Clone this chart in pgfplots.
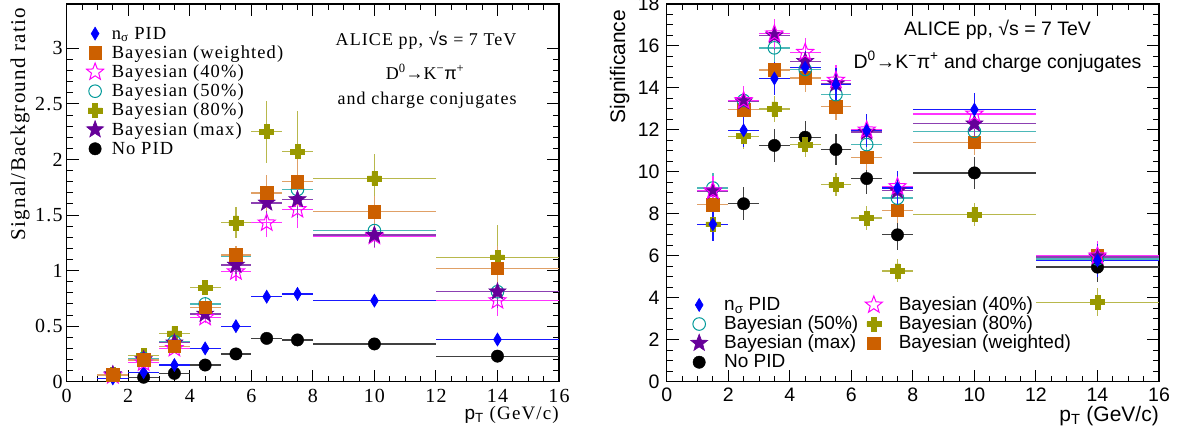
\documentclass[border=0pt]{standalone}
\usepackage{fontspec}
\setmainfont{Liberation Serif}
\newfontfamily\serifrm[LetterSpace=6]{Liberation Serif}
\newfontfamily\sansrm{Liberation Sans}
\usepackage{pgfplots}
\pgfplotsset{compat=1.18}

\definecolor{cns}{RGB}{0,0,255}
\definecolor{cw}{RGB}{204,96,0}
\definecolor{c40}{RGB}{255,0,255}
\definecolor{c50}{RGB}{0,153,153}
\definecolor{c80}{RGB}{153,153,0}
\definecolor{cmax}{RGB}{102,0,153}
\definecolor{cno}{RGB}{0,0,0}

\pgfdeclareplotmark{fstar}{%
  \pgfpathmoveto{\pgfpointpolar{90}{\pgfplotmarksize}}%
  \pgfpathlineto{\pgfpointpolar{126}{0.42\pgfplotmarksize}}%
  \pgfpathlineto{\pgfpointpolar{162}{\pgfplotmarksize}}%
  \pgfpathlineto{\pgfpointpolar{198}{0.42\pgfplotmarksize}}%
  \pgfpathlineto{\pgfpointpolar{234}{\pgfplotmarksize}}%
  \pgfpathlineto{\pgfpointpolar{270}{0.42\pgfplotmarksize}}%
  \pgfpathlineto{\pgfpointpolar{306}{\pgfplotmarksize}}%
  \pgfpathlineto{\pgfpointpolar{342}{0.42\pgfplotmarksize}}%
  \pgfpathlineto{\pgfpointpolar{18}{\pgfplotmarksize}}%
  \pgfpathlineto{\pgfpointpolar{54}{0.42\pgfplotmarksize}}%
  \pgfpathclose\pgfusepathqfillstroke}
\pgfdeclareplotmark{ostar}{%
  \pgfpathmoveto{\pgfpointpolar{90}{\pgfplotmarksize}}%
  \pgfpathlineto{\pgfpointpolar{126}{0.42\pgfplotmarksize}}%
  \pgfpathlineto{\pgfpointpolar{162}{\pgfplotmarksize}}%
  \pgfpathlineto{\pgfpointpolar{198}{0.42\pgfplotmarksize}}%
  \pgfpathlineto{\pgfpointpolar{234}{\pgfplotmarksize}}%
  \pgfpathlineto{\pgfpointpolar{270}{0.42\pgfplotmarksize}}%
  \pgfpathlineto{\pgfpointpolar{306}{\pgfplotmarksize}}%
  \pgfpathlineto{\pgfpointpolar{342}{0.42\pgfplotmarksize}}%
  \pgfpathlineto{\pgfpointpolar{18}{\pgfplotmarksize}}%
  \pgfpathlineto{\pgfpointpolar{54}{0.42\pgfplotmarksize}}%
  \pgfpathclose\pgfusepathqstroke}
\pgfdeclareplotmark{fcross}{%
  \pgfpathmoveto{\pgfpoint{-0.35\pgfplotmarksize}{\pgfplotmarksize}}%
  \pgfpathlineto{\pgfpoint{0.35\pgfplotmarksize}{\pgfplotmarksize}}%
  \pgfpathlineto{\pgfpoint{0.35\pgfplotmarksize}{0.35\pgfplotmarksize}}%
  \pgfpathlineto{\pgfpoint{\pgfplotmarksize}{0.35\pgfplotmarksize}}%
  \pgfpathlineto{\pgfpoint{\pgfplotmarksize}{-0.35\pgfplotmarksize}}%
  \pgfpathlineto{\pgfpoint{0.35\pgfplotmarksize}{-0.35\pgfplotmarksize}}%
  \pgfpathlineto{\pgfpoint{0.35\pgfplotmarksize}{-\pgfplotmarksize}}%
  \pgfpathlineto{\pgfpoint{-0.35\pgfplotmarksize}{-\pgfplotmarksize}}%
  \pgfpathlineto{\pgfpoint{-0.35\pgfplotmarksize}{-0.35\pgfplotmarksize}}%
  \pgfpathlineto{\pgfpoint{-\pgfplotmarksize}{-0.35\pgfplotmarksize}}%
  \pgfpathlineto{\pgfpoint{-\pgfplotmarksize}{0.35\pgfplotmarksize}}%
  \pgfpathlineto{\pgfpoint{-0.35\pgfplotmarksize}{0.35\pgfplotmarksize}}%
  \pgfpathclose\pgfusepathqfillstroke}

\tikzset{
  mNS/.style={mark=diamond*, mark size=6.5pt, mark options={xscale=0.8, solid, draw=cns, fill=cns, line width=0.6pt}},
  mW/.style={mark=square*, mark size=6.3pt, mark options={solid, draw=cw, fill=cw, line width=0.6pt}},
  m40/.style={mark=ostar, mark size=9pt, mark options={solid, draw=c40, line width=1pt}},
  m50/.style={mark=o, mark size=6.3pt, mark options={solid, draw=c50, line width=1pt}},
  m80/.style={mark=fcross, mark size=7pt, mark options={solid, draw=c80, fill=c80, line width=0.6pt}},
  mMax/.style={mark=fstar, mark size=9pt, mark options={solid, draw=cmax, fill=cmax, line width=0.6pt}},
  mNo/.style={mark=*, mark size=6.2pt, mark options={solid, draw=cno, fill=cno}},
}
\pgfplotsset{
  ebar/.style={/pgfplots/error bars/x dir=both, /pgfplots/error bars/x explicit,
    /pgfplots/error bars/y dir=both, /pgfplots/error bars/y explicit,
    /pgfplots/error bars/error mark=none,
    /pgfplots/error bars/error bar style={line width=1.3pt, solid, #1}},
  rootaxis/.style={
    scale only axis, width=492.3pt, height=377.7pt,
    xmin=0, xmax=16, xtick={0,2,...,16}, minor x tick num=3,
    tick align=inside, tick pos=both,
    major tick length=12pt, minor tick length=6pt,
    every tick/.style={black, line width=1pt},
    axis line style={line width=1.3pt},
    clip=false,
    legend image code/.code={\draw[overlay,#1] plot coordinates {(0pt,1pt)}; \path[draw=none,fill=none] (-9pt,0pt) -- (9pt,0pt);},
    legend cell align=left,
    /pgf/number format/assume math mode=true,
  }
}

\begin{document}
\begin{tikzpicture}
\useasboundingbox (0,0) rectangle (1181pt,437pt);
% ---------------- left panel ----------------
\begin{axis}[rootaxis, at={(66.7pt,55.3pt)}, anchor=south west,
  ymin=0, ymax=3.4, ytick={0,0.5,...,3}, minor y tick num=4,
  tick label style={font=\serifrm\fontsize{20}{20}\selectfont},
  yticklabel style={inner sep=0pt, xshift=-4pt},
  xticklabel style={inner sep=0pt, yshift=-7pt},
  ylabel={Signal/Background ratio},
  ylabel style={at={(axis description cs:-0.0847,0.99)}, anchor=base east, inner sep=0pt, font=\serifrm\fontsize{21}{21}\selectfont},
  xlabel={{\sansrm p\textsubscript{T}} (GeV/c)},
  xlabel style={at={(rel axis cs:1,0)}, anchor=base east, yshift=-38pt, inner sep=0pt, font=\serifrm\fontsize{19}{19}\selectfont},
  legend style={at={(rel axis cs:0.039,0.942)}, anchor=north west, draw=none, fill=none, inner sep=0pt,
    font=\serifrm\fontsize{18.5}{18.5}\selectfont,
    nodes={inner sep=0pt, text height=13pt, text depth=4pt}, row sep=2.2pt,
    /tikz/every odd column/.append style={column sep=7.7pt}},
]
\addplot[only marks, mNo, forget plot, ebar={cno!75}] coordinates {
 (2.5,0.04)+-(0.5,0.005) (3.5,0.075)+-(0.5,0.01) (4.5,0.15)+-(0.5,0.015) (5.5,0.25)+-(0.5,0.02)
 (6.5,0.39)+-(0.5,0.03) (7.5,0.376)+-(0.5,0.035) (10,0.34)+-(2,0.025) (14,0.23)+-(2,0.025)};
\addplot[only marks, mNS, forget plot, ebar={cns!90}] coordinates {
 (1.5,0.03)+-(0.5,0.005) (2.5,0.085)+-(0.5,0.008) (3.5,0.15)+-(0.5,0.012) (4.5,0.30)+-(0.5,0.02)
 (5.5,0.50)+-(0.5,0.03) (6.5,0.765)+-(0.5,0.05) (7.5,0.79)+-(0.5,0.06) (10,0.73)+-(2,0.04) (14,0.38)+-(2,0.04)};
\addplot[only marks, m40, forget plot, ebar={c40!80}] coordinates {
 (1.5,0.055)+-(0.5,0.01) (2.5,0.17)+-(0.5,0.02) (3.5,0.30)+-(0.5,0.03) (4.5,0.58)+-(0.5,0.05)
 (5.5,0.99)+-(0.5,0.08) (6.5,1.43)+-(0.5,0.13) (7.5,1.55)+-(0.5,0.17) (10,1.31)+-(2,0.11) (14,0.73)+-(2,0.14)};
\addplot[only marks, m80, forget plot, ebar={c80!70}] coordinates {
 (1.5,0.065)+-(0.5,0.01) (2.5,0.235)+-(0.5,0.03) (3.5,0.435)+-(0.5,0.05) (4.5,0.847)+-(0.5,0.07)
 (5.5,1.43)+-(0.5,0.14) (6.5,2.25)+-(0.5,0.28) (7.5,2.07)+-(0.5,0.37) (10,1.83)+-(2,0.22) (14,1.12)+-(2,0.29)};
\addplot[only marks, m50, forget plot, ebar={c50!70}] coordinates {
 (1.5,0.065)+-(0.5,0.01) (2.5,0.21)+-(0.5,0.02) (3.5,0.36)+-(0.5,0.03) (4.5,0.70)+-(0.5,0.05)
 (5.5,1.13)+-(0.5,0.08) (6.5,1.70)+-(0.5,0.15) (7.5,1.73)+-(0.5,0.19) (10,1.36)+-(2,0.12) (14,0.81)+-(2,0.15)};
\addplot[only marks, mMax, forget plot, ebar={cmax!75}] coordinates {
 (1.5,0.065)+-(0.5,0.01) (2.5,0.20)+-(0.5,0.02) (3.5,0.35)+-(0.5,0.03) (4.5,0.61)+-(0.5,0.05)
 (5.5,1.05)+-(0.5,0.08) (6.5,1.61)+-(0.5,0.14) (7.5,1.64)+-(0.5,0.17) (10,1.32)+-(2,0.11) (14,0.81)+-(2,0.15)};
\addplot[only marks, mW, forget plot, ebar={cw!60}] coordinates {
 (1.5,0.06)+-(0.5,0.01) (2.5,0.195)+-(0.5,0.02) (3.5,0.32)+-(0.5,0.03) (4.5,0.67)+-(0.5,0.05)
 (5.5,1.14)+-(0.5,0.08) (6.5,1.70)+-(0.5,0.16) (7.5,1.80)+-(0.5,0.22) (10,1.53)+-(2,0.14) (14,1.02)+-(2,0.2)};
\addlegendimage{mNS}\addlegendentry{n\textsubscript{σ} PID}
\addlegendimage{mW}\addlegendentry{Bayesian (weighted)}
\addlegendimage{m40}\addlegendentry{Bayesian (40\%)}
\addlegendimage{m50}\addlegendentry{Bayesian (50\%)}
\addlegendimage{m80}\addlegendentry{Bayesian (80\%)}
\addlegendimage{mMax}\addlegendentry{Bayesian (max)}
\addlegendimage{mNo}\addlegendentry{No PID}
\node[font=\serifrm\fontsize{18}{18}\selectfont] at (rel axis cs:0.730,0.905) {ALICE pp, {\sansrm √s} = 7 TeV};
\node[font=\serifrm\fontsize{18}{18}\selectfont] at (rel axis cs:0.728,0.820) {D\textsuperscript{0}{\sansrm →}K\textsuperscript{−}{\sansrm π}\textsuperscript{+}};
\node[font=\serifrm\fontsize{18}{18}\selectfont] at (rel axis cs:0.732,0.746) {and charge conjugates};
\end{axis}
% ---------------- right panel ----------------
\begin{axis}[rootaxis, at={(666.7pt,55.3pt)}, anchor=south west,
  ymin=0, ymax=18, ytick={0,2,...,18}, minor y tick num=3,
  tick label style={font=\sansrm\fontsize{19.5}{19.5}\selectfont},
  yticklabel style={inner sep=0pt, xshift=-7pt},
  xticklabel style={inner sep=0pt, yshift=-6pt},
  ylabel={Significance},
  ylabel style={at={(axis description cs:-0.0847,0.985)}, anchor=base east, inner sep=0pt, font=\sansrm\fontsize{21}{21}\selectfont},
  xlabel={p\textsubscript{T} (GeV/c)},
  xlabel style={at={(rel axis cs:1,0)}, anchor=base east, yshift=-40pt, inner sep=0pt, font=\sansrm\fontsize{21}{21}\selectfont},
  legend columns=2,
  legend style={at={(rel axis cs:0.0473,0.2243)}, anchor=north west, draw=none, fill=none, inner sep=0pt,
    font=\sansrm\fontsize{19}{19}\selectfont,
    nodes={inner sep=0pt, text height=13.5pt, text depth=4pt}, row sep=1.6pt,
    /tikz/every odd column/.append style={column sep=16pt},
    /tikz/every even column/.append style={column sep=6.5pt}},
]
\addplot[only marks, mNo, forget plot, ebar={cno!75}] coordinates {
 (2.5,8.48)+-(0.5,0.78) (3.5,11.26)+-(0.5,0.78) (4.5,11.65)+-(0.5,0.78) (5.5,11.06)+-(0.5,0.75)
 (6.5,9.68)+-(0.5,0.75) (7.5,7.0)+-(0.5,0.7) (10,9.95)+-(2,0.75) (14,5.46)+-(2,0.7)};
\addplot[only marks, m80, forget plot, ebar={c80!70}] coordinates {
 (1.5,7.5)+-(0.5,0.55) (2.5,11.7)+-(0.5,0.6) (3.5,13.0)+-(0.5,0.6) (4.5,11.3)+-(0.5,0.6)
 (5.5,9.39)+-(0.5,0.55) (6.5,7.8)+-(0.5,0.55) (7.5,5.28)+-(0.5,0.55) (10,7.96)+-(2,0.55) (14,3.79)+-(2,0.68)};
\addplot[only marks, mW, forget plot, ebar={cw!60}] coordinates {
 (1.5,8.43)+-(0.5,0.6) (2.5,12.97)+-(0.5,0.65) (3.5,14.85)+-(0.5,0.65) (4.5,14.48)+-(0.5,0.65)
 (5.5,13.1)+-(0.5,0.65) (6.5,10.69)+-(0.5,0.6) (7.5,8.16)+-(0.5,0.6) (10,11.41)+-(2,0.6) (14,6.02)+-(2,0.6)};
\addplot[only marks, m50, forget plot, ebar={c50!70}] coordinates {
 (1.5,9.23)+-(0.5,0.7) (2.5,13.4)+-(0.5,0.7) (3.5,15.91)+-(0.5,0.7) (4.5,14.88)+-(0.5,0.7)
 (5.5,13.68)+-(0.5,0.7) (6.5,11.3)+-(0.5,0.7) (7.5,8.75)+-(0.5,0.7) (10,11.93)+-(2,0.7) (14,5.85)+-(2,0.7)};
\addplot[only marks, mMax, forget plot, ebar={cmax!75}] coordinates {
 (1.5,9.07)+-(0.5,0.7) (2.5,13.35)+-(0.5,0.7) (3.5,16.5)+-(0.5,0.7) (4.5,15.27)+-(0.5,0.7)
 (5.5,14.2)+-(0.5,0.7) (6.5,11.9)+-(0.5,0.7) (7.5,9.1)+-(0.5,0.7) (10,12.29)+-(2,0.7) (14,5.95)+-(2,0.7)};
\addplot[only marks, m40, forget plot, ebar={c40!80}] coordinates {
 (1.5,9.1)+-(0.5,0.7) (2.5,13.4)+-(0.5,0.7) (3.5,16.58)+-(0.5,0.7) (4.5,15.7)+-(0.5,0.7)
 (5.5,14.37)+-(0.5,0.7) (6.5,12.0)+-(0.5,0.7) (7.5,9.3)+-(0.5,0.7) (10,12.76)+-(2,0.7) (14,6.0)+-(2,0.7)};
\addplot[only marks, mNS, forget plot, ebar={cns!90}] coordinates {
 (1.5,7.5)+-(0.5,0.8) (2.5,11.98)+-(0.5,0.8) (3.5,14.45)+-(0.5,0.8) (4.5,14.96)+-(0.5,0.8)
 (5.5,14.16)+-(0.5,0.8) (6.5,11.97)+-(0.5,0.8) (7.5,9.23)+-(0.5,0.8) (10,12.97)+-(2,0.8) (14,5.78)+-(2,0.8)};
\addlegendimage{mNS}\addlegendentry{n\textsubscript{σ} PID}
\addlegendimage{m40}\addlegendentry{Bayesian (40\%)}
\addlegendimage{m50}\addlegendentry{Bayesian (50\%)}
\addlegendimage{m80}\addlegendentry{Bayesian (80\%)}
\addlegendimage{mMax}\addlegendentry{Bayesian (max)}
\addlegendimage{mW}\addlegendentry{Bayesian (weighted)}
\addlegendimage{mNo}\addlegendentry{No PID}
\node[font=\sansrm\fontsize{19.5}{19.5}\selectfont] at (rel axis cs:0.672,0.931) {ALICE pp, √s = 7 TeV};
\node[font=\sansrm\fontsize{19.5}{19.5}\selectfont] at (rel axis cs:0.672,0.847) {D\textsuperscript{0}→K\textsuperscript{−}π\textsuperscript{+} and charge conjugates};
\end{axis}
\end{tikzpicture}
\end{document}
